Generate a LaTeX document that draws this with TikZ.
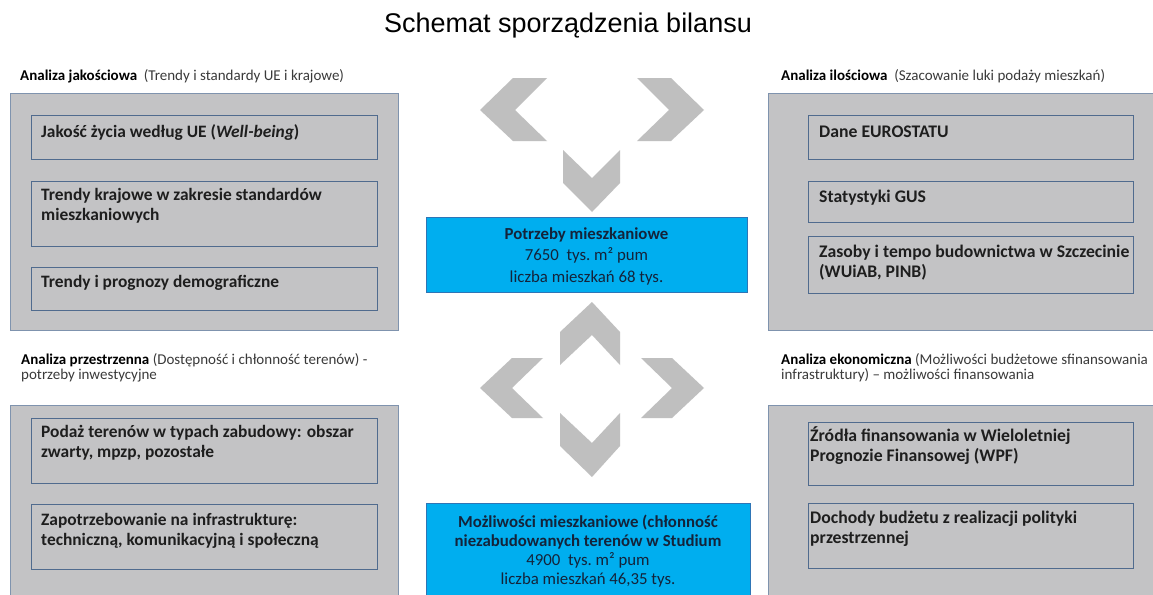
\documentclass[tikz,border=0pt]{standalone}
\usepackage{fontspec}
\setmainfont{Carlito}
\newfontfamily\titlefont{Liberation Sans}
\definecolor{boxgray}{HTML}{C3C3C5}
\definecolor{outerline}{HTML}{7F93AE}
\definecolor{innerline}{HTML}{506B8E}
\definecolor{bluefill}{HTML}{00AEEF}
\definecolor{blueline}{HTML}{2E75B6}
\definecolor{chev}{HTML}{BFBFBF}
\definecolor{textdark}{HTML}{1E1E1E}
\definecolor{bluetext}{HTML}{14233A}
\definecolor{lblgray}{HTML}{3A3A3A}
\tikzset{
  natspace/.style={execute at begin node={\spaceskip=0pt\xspaceskip=0pt\relax}},
  fixspace/.style={execute at begin node={\spaceskip=\fontdimen2\font\xspaceskip=\fontdimen2\font\relax}},
  outerbox/.style={draw=outerline, fill=boxgray, line width=0.8pt, anchor=north west, inner sep=0pt},
  innerbox/.style={draw=innerline, fill=boxgray, line width=1pt, anchor=north west, inner sep=0pt, minimum width=#1},
  innerbox/.default=346pt,
  bluebox/.style={draw=blueline, fill=bluefill, line width=1pt, anchor=north west, inner sep=0pt},
  boxtext/.style={natspace, anchor=base west, inner sep=0pt, text width=345pt, align=left,
     font=\fontsize{17.4}{20}\selectfont\bfseries, text=textdark},
  boxtextR/.style={boxtext, font=\fontsize{17.7}{20}\selectfont\bfseries},
  bluetxt/.style={fixspace, anchor=base, inner sep=0pt, text width=330pt, align=flush center,
     font=\fontsize{16.8}{21.5}\selectfont, text=bluetext},
  lbl/.style={natspace, anchor=base west, inner sep=0pt, text width=420pt, align=left,
     font=\fontsize{15}{15}\selectfont, text=lblgray},
  chevron/.style={fill=chev, draw=none}
}
\begin{document}
\begin{tikzpicture}[x=1pt,y=-1pt]
\useasboundingbox (0,0) rectangle (1153,594);
\clip (0,0) rectangle (1153,594);
\fill[white] (0,0) rectangle (1153,594);

% title
\node[anchor=base, inner sep=0pt, font=\titlefont\fontsize{27}{30}\selectfont, text=black] (title) at (568,33) {Schemat sporządzenia bilansu};

% labels
\node[lbl] (lblLT) at (20,81) {{\color{black}\bfseries Analiza jakościowa}\ \ (Trendy i standardy UE i krajowe)};
\node[lbl] (lblRT) at (781,81) {{\color{black}\bfseries Analiza ilościowa}\ \ (Szacowanie luki podaży mieszkań)};
\node[lbl] (lblLB) at (21,364) {{\color{black}\bfseries Analiza przestrzenna} (Dostępność i chłonność terenów) -\\potrzeby inwestycyjne};
\node[lbl] (lblRB) at (781,364) {{\color{black}\bfseries Analiza ekonomiczna} (Możliwości budżetowe sfinansowania\\infrastruktury) – możliwości finansowania};

% outer boxes
\node[outerbox, minimum width=388pt, minimum height=237pt] (LT) at (10,93) {};
\node[outerbox, minimum width=400pt, minimum height=237pt] (RT) at (768,93) {};
\node[outerbox, minimum width=388pt, minimum height=200pt] (LB) at (10,405) {};
\node[outerbox, minimum width=400pt, minimum height=200pt] (RB) at (768,405) {};

% inner boxes left top
\node[innerbox, minimum height=44pt] (lt1) at (31,115) {};
\node[innerbox, minimum height=65pt] (lt2) at (31,181) {};
\node[innerbox, minimum height=43pt] (lt3) at (31,267) {};
\node[boxtext] (lt1t) at ([shift={(10,22)}]lt1.north west) {Jakość życia według UE (\textit{Well-being})};
\node[boxtext] (lt2t) at ([shift={(10,19)}]lt2.north west) {Trendy krajowe w zakresie standardów\\mieszkaniowych};
\node[boxtext] (lt3t) at ([shift={(10,20)}]lt3.north west) {Trendy i prognozy demograficzne};

% inner boxes right top
\node[innerbox=325pt, minimum height=44pt] (rt1) at (808,115) {};
\node[innerbox=325pt, minimum height=41pt] (rt2) at (808,181) {};
\node[innerbox=325pt, minimum height=57pt] (rt3) at (808,236) {};
\node[boxtextR] (rt1t) at ([shift={(11,22)}]rt1.north west) {Dane EUROSTATU};
\node[boxtextR] (rt2t) at ([shift={(11,21)}]rt2.north west) {Statystyki GUS};
\node[boxtextR] (rt3t) at ([shift={(11,21)}]rt3.north west) {Zasoby i tempo budownictwa w Szczecinie\\(WUiAB, PINB)};

% inner boxes left bottom
\node[innerbox, minimum height=65pt] (lb1) at (31,418) {};
\node[innerbox, minimum height=65pt] (lb2) at (31,504) {};
\node[boxtext] (lb1t) at ([shift={(10,19)}]lb1.north west) {Podaż terenów w typach zabudowy: obszar\\zwarty, mpzp, pozostałe};
\node[boxtext] (lb2t) at ([shift={(10,21)}]lb2.north west) {Zapotrzebowanie na infrastrukturę:\\techniczną, komunikacyjną i społeczną};

% inner boxes right bottom
\node[innerbox=325pt, minimum height=63pt] (rb1) at (808,422) {};
\node[innerbox=325pt, minimum height=65pt] (rb2) at (808,503) {};
\node[boxtextR] (rb1t) at ([shift={(2,19)}]rb1.north west) {Źródła finansowania w Wieloletniej\\Prognozie Finansowej (WPF)};
\node[boxtextR] (rb2t) at ([shift={(2,20)}]rb2.north west) {Dochody budżetu z realizacji polityki\\przestrzennej};

% blue boxes
\node[bluebox, minimum width=321pt, minimum height=75pt] (need) at (426,217) {};
\node[bluetxt] (needt) at (586.5,239) {\textbf{Potrzeby mieszkaniowe}\\7650\ \ tys. m² pum\\liczba mieszkań 68 tys.};
\node[bluebox, minimum width=324pt, minimum height=100pt] (poss) at (426,503) {};
\node[bluetxt, font=\fontsize{16.8}{19}\selectfont] (posst) at (588,527) {\textbf{Możliwości mieszkaniowe (chłonność}\\\textbf{niezabudowanych terenów w Studium}\\4900\ \ tys. m² pum\\liczba mieszkań 46,35 tys.};

% chevrons top cluster
\fill[chevron] (547,78) -- (513,78) -- (480,110) -- (513,141) -- (547,141) -- (515,110) -- cycle;
\fill[chevron] (637,78) -- (671,78) -- (704,110) -- (671,141) -- (637,141) -- (669,110) -- cycle;
\fill[chevron] (563,150) -- (563,183) -- (592,212) -- (620,183) -- (620,150) -- (592,178) -- cycle;

% chevrons bottom cluster
\fill[chevron] (560,365) -- (560,332) -- (592,302) -- (620,332) -- (620,365) -- (592,335) -- cycle;
\fill[chevron] (543,358) -- (512,358) -- (480,388) -- (512,418) -- (543,418) -- (512,388) -- cycle;
\fill[chevron] (641,358) -- (672,358) -- (704,388) -- (672,418) -- (641,418) -- (672,388) -- cycle;
\fill[chevron] (560,413) -- (560,446) -- (592,477) -- (620,446) -- (620,413) -- (592,443) -- cycle;
\end{tikzpicture}
\end{document}
